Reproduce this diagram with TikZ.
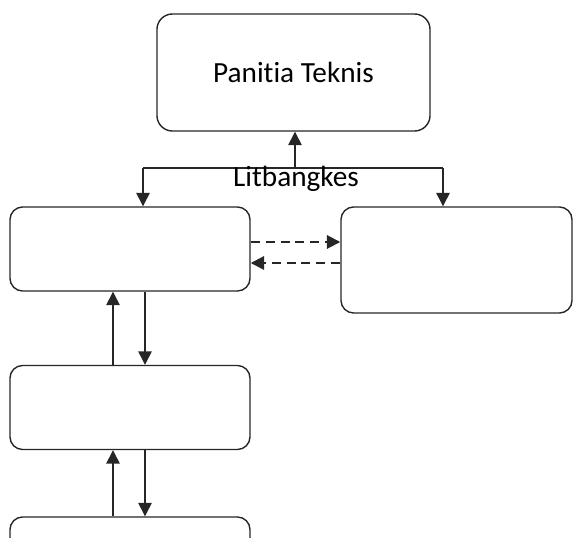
\documentclass[tikz,border=0pt]{standalone}
\usepackage{fontspec}
\setmainfont[Ligatures={NoCommon}]{Carlito}
\usetikzlibrary{positioning,calc,arrows.meta}

\tikzset{
    unit/.style={draw=black!85, line width=1pt, rounded corners=9pt, minimum width=6cm, minimum height=2.1cm},
    arr/.style={draw=black!85, line width=1pt, -{Triangle[length=9.5pt,width=9.5pt]}},
    darr/.style={arr, line width=1.4pt, dash pattern=on 6.4pt off 4.2pt},
}

\begin{document}
\begin{tikzpicture}[x=0.025cm, y=-0.025cm, font=\fontsize{20.8}{24}\selectfont]
    \useasboundingbox (0,0) rectangle (574,538);

    % Boxes
    \node[unit, rounded corners=11pt, minimum width=6.825cm, minimum height=2.925cm] (top) at (293.5,72.5) {Panitia Teknis};
    \node[unit] (l1) at (130,249) {};
    \node[unit] (l2) at (130,407.5) {};
    \node[unit] (l3) at (130,559) {};
    \node[unit, minimum width=5.775cm, minimum height=2.65cm] (r1) at (456.5,260) {};

    % Split below the top box
    \coordinate (lnk) at (295,168);
    \coordinate (splitL) at (143,168);
    \coordinate (splitR) at (443,168);
    \draw[black!85, line width=1pt] (splitL) -- (splitR);
    \draw[arr] (lnk) -- (lnk |- top.south);
    \draw[arr] (splitL) -- (splitL |- l1.north);
    \draw[arr] (splitR) -- (splitR |- r1.north);
    \node (lit) at (296,179) {Litbangkes};

    % Dashed links
    \draw[darr] (l1.east |- 0,242) -- (r1.west |- 0,242);
    \draw[darr] (r1.west |- 0,263) -- (l1.east |- 0,263);

    % Up and down the column
    \foreach \a/\b in {l1/l2, l2/l3} {
        \draw[arr] (\b.north -| 113,0) -- (\a.south -| 113,0);
        \draw[arr] (\a.south -| 145,0) -- (\b.north -| 145,0);
    }
\end{tikzpicture}
\end{document}
